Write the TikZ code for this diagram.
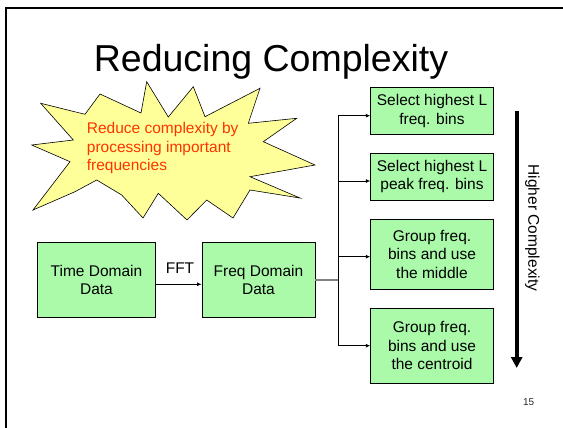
\documentclass[tikz,border=0pt]{standalone}
\usepackage{fontspec}
\setmainfont{Liberation Sans}
\usetikzlibrary{arrows.meta}
\definecolor{boxgreen}{RGB}{170,250,170}
\definecolor{burstyellow}{RGB}{255,255,153}
\definecolor{burstred}{RGB}{255,51,0}

\begin{document}
\begin{tikzpicture}[x=1pt,y=-1pt,
  stagebox/.style={draw=black, line width=0.8pt, fill=boxgreen, align=center,
    inner sep=0pt, font=\fontsize{15.5}{18.5}\selectfont},
  branch/.style={draw=black, line width=0.8pt, -{Latex[length=4.5pt,width=4pt]}},
  feed/.style={draw=black!50, line width=1.6pt},
  trunkline/.style={draw=black, line width=0.8pt},
  bigarrow/.style={draw=black, line width=4pt, -{Triangle[length=11pt,width=11pt]}},
  plain/.style={font=\fontsize{15.5}{18.5}\selectfont, inner sep=0pt},
]
\useasboundingbox (0,0) rectangle (563,428);

% slide frame (top and left edges)
\draw[line width=2pt] (5,8) -- (563,8);
\draw[line width=2pt] (6,7) -- (6,428);

% title
\node[font=\fontsize{37.5}{40}\selectfont, anchor=base, inner sep=0pt] (title) at (271,72) {Reducing Complexity};

% explosion callout
\filldraw[fill=burstyellow, draw=black, line width=0.6pt, line join=miter]
  (40.7,103.3) -- (85,114.3) -- (100,94) -- (141,113) -- (146.7,81.7)
  -- (168.3,117) -- (193.3,86.7) -- (205,116.7) -- (260,88.3) -- (248.3,123.3)
  -- (296.7,118.3) -- (263.3,141.7) -- (315,165) -- (250,176.7) -- (300,198)
  -- (250,190) -- (233,218) -- (206.7,200) -- (187,220) -- (158.3,193.3)
  -- (143,218) -- (121.7,195) -- (96.7,180) -- (75,191.7) -- (33,210)
  -- (70,161.7) -- (31.7,145) -- (73.3,140) -- cycle;
\node[anchor=west, align=left, text=burstred, font=\fontsize{15.5}{18.3}\selectfont, inner sep=0pt]
  (burst) at (86.7,148.1) {Reduce complexity by\\processing important\\frequencies};

% processing chain
\node[stagebox, minimum width=117.6pt, minimum height=74.6pt] (tdd) at (96.5,280) {Time Domain\\Data};
\node[stagebox, minimum width=113pt, minimum height=74.6pt] (fdd) at (258.5,280) {Freq Domain\\Data};
\node[plain] (fft) at (180,267.7) {FFT};
\draw[branch] ([yshift=-4.3pt]tdd.east) -- ([yshift=-4.3pt]fdd.west);

% selection strategies
\node[stagebox, minimum width=122.6pt, minimum height=46.3pt] (s1) at (432,110.85) {Select highest L\\freq. bins};
\node[stagebox, minimum width=122.6pt, minimum height=46.7pt] (s2) at (432,176.65) {Select highest L\\peak freq. bins};
\node[stagebox, minimum width=122.6pt, minimum height=70.3pt] (s3) at (432,254.15) {Group freq.\\bins and use\\the middle};
\node[stagebox, minimum width=122.6pt, minimum height=75pt] (s4) at (432,345.8) {Group freq.\\bins and use\\the centroid};

% fan-out from the spectrum
\coordinate (t1) at (338.3,115.7);
\coordinate (t2) at (338.3,181);
\coordinate (t3) at (338.3,256.7);
\coordinate (t4) at (338.3,345.7);
\draw[feed] (fdd.east) -- (fdd.east -| t1);
\draw[trunkline] (t1) -- (t4);
\draw[branch] (t1) -- (t1 -| s1.west);
\draw[branch] (t2) -- (t2 -| s2.west);
\draw[branch] (t3) -- (t3 -| s3.west);
\draw[branch] (t4) -- (t4 -| s4.west);

% complexity scale
\coordinate (hctop) at (516.7,111);
\coordinate (hctip) at (516.7,368);
\draw[bigarrow] (hctop) -- (hctip);
\node[plain, rotate=-90] (hclabel) at (532.3,228) {Higher Complexity};

% page number
\node[font=\fontsize{10}{12}\selectfont, text=black!85, inner sep=0pt] (pnum) at (528.7,402.3) {15};
\end{tikzpicture}
\end{document}
